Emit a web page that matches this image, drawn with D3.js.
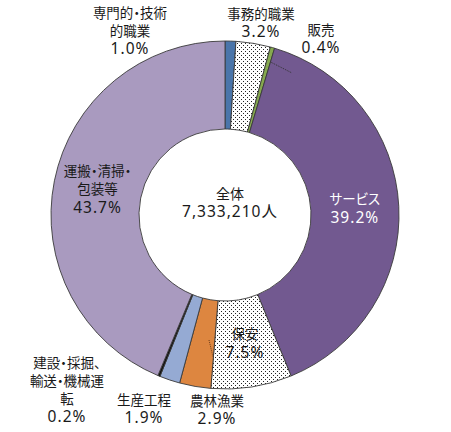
<!DOCTYPE html>
<html>
<head>
<meta charset="utf-8">
<script src="https://cdn.jsdelivr.net/npm/d3@7"></script>
<style>
  body { margin: 0; background: #fff; }
  svg text { font-family: "Noto Sans CJK JP", sans-serif; font-feature-settings: "palt"; }
  svg tspan.num { font-family: "Noto Sans", "Noto Sans CJK JP", sans-serif; letter-spacing: 1px; }
</style>
</head>
<body>
<div id="chart"></div>
<script>
// Occupation breakdown (clockwise from 12 o'clock)
const categories = ['専門的・技術的職業', '事務的職業', '販売', 'サービス', '保安', '農林漁業', '生産工程', '建設・採掘、輸送・機械運転', '運搬・清掃・包装等'];
const shares = [1.0, 3.2, 0.4, 39.2, 7.5, 2.9, 1.9, 0.2, 43.7];
const totalLabel = ['全体', '7,333,210人'];

// label lines shown on the chart (percent line is added below)
const labelLines = [
  ['専門的・技術', '的職業'],
  ['事務的職業'],
  ['販売'],
  ['サービス'],
  ['保安'],
  ['農林漁業'],
  ['生産工程'],
  ['建設・採掘、', '輸送・機械運', '転'],
  ['運搬・清掃・', '包装等']
];

const fills = ['#4a75aa', 'url(#dots)', '#86a94f', '#725990', 'url(#dots)', '#dd8640', '#95aad3', '#111111', '#a99abf'];

const width = 451, height = 432;
const cx = 225, cy = 215;
const outerR = 174, innerR = 86;
const lineH = 18;

const svg = d3.select('#chart').append('svg')
  .attr('width', width)
  .attr('height', height);

// dotted fill pattern
const pat = svg.append('defs').append('pattern')
  .attr('id', 'dots')
  .attr('patternUnits', 'userSpaceOnUse')
  .attr('width', 4).attr('height', 4);
pat.append('rect').attr('width', 4).attr('height', 4).attr('fill', '#fff');
pat.append('rect').attr('x', 0).attr('y', 0).attr('width', 1).attr('height', 1).attr('fill', '#222');
pat.append('rect').attr('x', 2).attr('y', 2).attr('width', 1).attr('height', 1).attr('fill', '#222');

const g = svg.append('g').attr('transform', `translate(${cx},${cy})`);

const pie = d3.pie().sort(null).value(d => d);
const arcs = pie(shares);
const arc = d3.arc().innerRadius(innerR).outerRadius(outerR);

g.selectAll('path.slice')
  .data(arcs)
  .enter()
  .append('path')
  .attr('class', 'slice')
  .attr('d', arc)
  .attr('fill', (d, i) => fills[i])
  .attr('stroke', '#3a3a3a')
  .attr('stroke-width', 0.9);

// outside labels: centre x and top-line y of the text block
const outside = {
  0: [130, 13],
  1: [261, 14],
  2: [321, 30],
  5: [217, 401],
  6: [144, 400],
  7: [67, 363]
};

const labelG = svg.append('g')
  .style('font-size', '13.5px')
  .attr('text-anchor', 'middle');

arcs.forEach((d, i) => {
  const lines = labelLines[i].concat([shares[i].toFixed(1) + '%']);
  let x, y0;
  if (outside[i]) {
    [x, y0] = outside[i];
  } else {
    const c = arc.centroid(d);
    x = cx + c[0];
    y0 = cy + c[1] - (lines.length - 1) * lineH / 2;
  }
  const t = labelG.append('text')
    .attr('fill', i === 3 ? '#ffffff' : '#1a1a1a');
  lines.forEach((s, k) => {
    const last = k === lines.length - 1;
    t.append('tspan')
      .attr('class', last ? 'num' : null)
      .attr('x', x)
      .attr('y', y0 + k * lineH)
      .attr('dy', '0.35em')
      .style('font-size', last ? '15.5px' : null)
      .text(s);
  });
});

// leader lines
const leader = d3.arc().innerRadius(outerR - 14).outerRadius(outerR - 14);
const salesEdge = leader.centroid(arcs[2]);
svg.append('line')
  .attr('x1', cx + salesEdge[0] + 2).attr('y1', cy + salesEdge[1] + 1)
  .attr('x2', 292).attr('y2', 73)
  .attr('stroke', '#333')
  .attr('stroke-width', 1)
  .attr('stroke-dasharray', '1,1');

svg.append('line')
  .attr('x1', 209).attr('y1', 340)
  .attr('x2', 213).attr('y2', 357)
  .attr('stroke', '#6b3c1a')
  .attr('stroke-width', 1)
  .attr('stroke-dasharray', '1,1');

// centre total
const center = svg.append('text')
  .attr('text-anchor', 'middle')
  .attr('fill', '#1a1a1a');
totalLabel.forEach((s, k) => {
  center.append('tspan')
    .attr('class', k === 1 ? 'num' : null)
    .attr('x', cx + 5)
    .attr('y', 194 + k * 18)
    .attr('dy', '0.35em')
    .style('font-size', k === 0 ? '14px' : '15.5px')
    .text(s);
});
</script>
</body>
</html>
